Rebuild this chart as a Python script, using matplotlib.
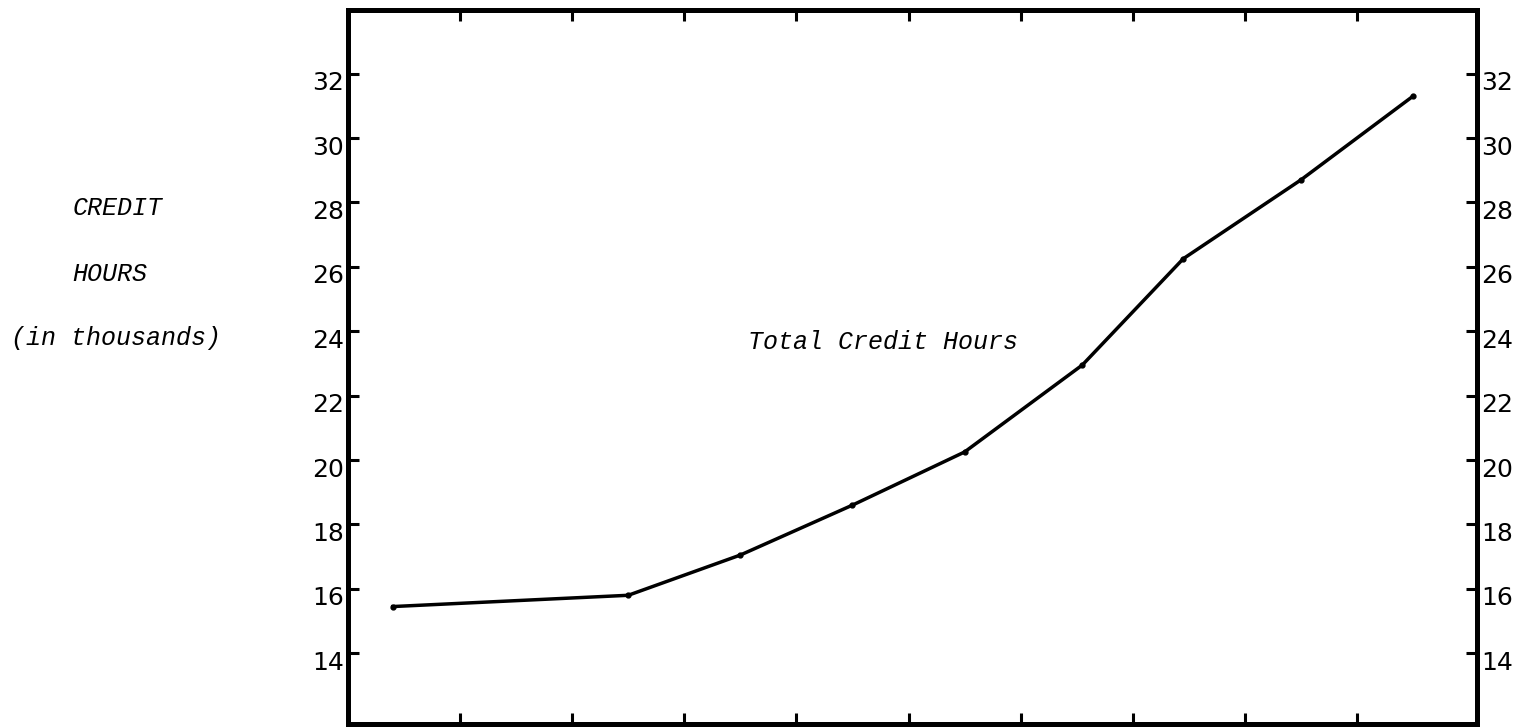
import matplotlib
matplotlib.use("Agg")
import matplotlib.pyplot as plt
import matplotlib.transforms as mtransforms

# year slots (tick marks between them), credit hours in thousands
years = [0.4, 2.5, 3.5, 4.5, 5.5, 6.55, 7.45, 8.5, 9.5]
credit_hours = [15.45, 15.8, 17.05, 18.6, 20.25, 22.95, 26.25, 28.7, 31.3]
year_ticks = [1, 2, 3, 4, 5, 6, 7, 8, 9]
hour_ticks = [14, 16, 18, 20, 22, 24, 26, 28, 30, 32]

mono = "Liberation Mono"

fig = plt.figure(figsize=(15.28, 7.27), dpi=100)
ax = fig.add_axes([0.2277, 0.004, 0.7389, 0.982])

ax.plot(years, credit_hours, color="black", lw=2.5, marker="o", ms=3.5,
        solid_joinstyle="round")

ax.set_xlim(0, 10.07)
ax.set_ylim(11.8, 33.97)
ax.set_xticks(year_ticks)
ax.set_xticklabels([])
ax.set_yticks(hour_ticks)
ax.set_yticklabels([str(t) for t in hour_ticks])

ax.tick_params(axis="x", direction="in", top=True, bottom=True,
               length=8, width=2.2)
ax.tick_params(axis="y", direction="in", left=True, right=True,
               labelleft=True, labelright=True, length=8, width=2.2,
               labelsize=18, pad=3)

# typed labels sit a little below their tick marks
shift = mtransforms.ScaledTranslation(0, -7 / 100, fig.dpi_scale_trans)
for lbl in ax.get_yticklabels(which="both"):
    lbl.set_fontfamily("DejaVu Sans")
for t in ax.yaxis.get_major_ticks():
    t.label1.set_transform(t.label1.get_transform() + shift)
    t.label2.set_transform(t.label2.get_transform() + shift)
    t.label1.set_fontfamily("DejaVu Sans")
    t.label2.set_fontfamily("DejaVu Sans")

for s in ax.spines.values():
    s.set_linewidth(3.6)

ax.text(4.77, 23.66, "Total Credit Hours", family=mono, style="italic",
        fontsize=18, ha="center", va="center")

fig.text(118 / 1528, 1 - 208 / 727, "CREDIT", family=mono, style="italic",
         fontsize=18, ha="center", va="center")
fig.text(110 / 1528, 1 - 274 / 727, "HOURS", family=mono, style="italic",
         fontsize=18, ha="center", va="center")
fig.text(116 / 1528, 1 - 338 / 727, "(in thousands)", family=mono,
         style="italic", fontsize=18, ha="center", va="center")

fig.savefig("out.png", dpi=100)
